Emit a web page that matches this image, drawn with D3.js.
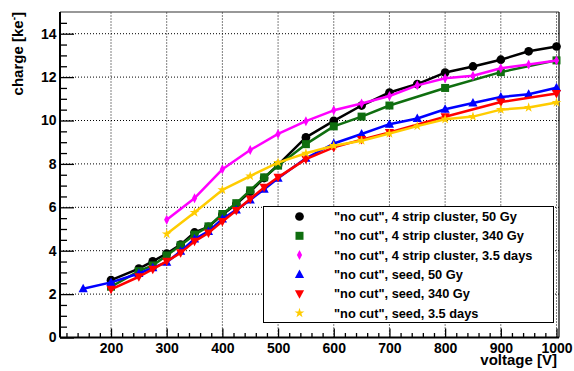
<!DOCTYPE html>
<html>
<head>
<meta charset="utf-8">
<script src="https://cdn.jsdelivr.net/npm/d3@7"></script>
<style>
  html, body { margin: 0; padding: 0; background: #fff; }
  svg { display: block; font-family: "Liberation Sans", Arial, Helvetica, sans-serif; font-weight: bold; }
</style>
</head>
<body>
<svg id="chart" width="574" height="371"></svg>
<script>
// ---------- data ----------
const xTicks = [200, 300, 400, 500, 600, 700, 800, 900, 1000];
const yTicks = [0, 2, 4, 6, 8, 10, 12, 14];

const vBlack = [200,250,275,300,325,350,375,400,425,450,475,500,550,600,650,700,750,800,850,900,950,1000];
const qBlack = [2.64,3.17,3.51,3.87,4.28,4.84,5.10,5.66,6.15,6.72,7.35,7.95,9.22,9.98,10.69,11.29,11.68,12.21,12.49,12.80,13.19,13.41];

const vGreen = [200,250,275,300,325,350,375,400,425,450,475,500,550,600,650,700,800,900,1000];
const qGreen = [2.34,3.06,3.32,3.78,4.25,4.74,5.12,5.69,6.19,6.78,7.38,7.92,8.91,9.73,10.18,10.69,11.50,12.23,12.77];

const vMagenta = [300,350,400,450,500,550,600,650,700,750,800,850,900,950,1000];
const qMagenta = [5.43,6.42,7.75,8.64,9.38,9.97,10.47,10.78,11.13,11.62,11.95,12.06,12.41,12.58,12.77];

const vBlue = [150,200,250,275,300,325,350,375,400,425,450,475,500,550,600,650,700,750,800,850,900,950,1000];
const qBlue = [2.25,2.54,2.95,3.21,3.47,3.97,4.54,4.89,5.46,5.88,6.34,6.83,7.34,8.26,8.94,9.38,9.83,10.09,10.52,10.81,11.08,11.21,11.51];

const vRed = [200,250,275,300,325,350,375,400,425,450,475,500,550,600,650,700,800,900,1000];
const qRed = [2.22,2.80,3.15,3.51,3.90,4.43,4.82,5.35,5.85,6.38,6.92,7.38,8.22,8.76,9.12,9.45,10.17,10.85,11.24];

const vYellow = [300,350,400,450,500,550,600,650,700,750,800,850,900,950,1000];
const qYellow = [4.77,5.76,6.80,7.44,8.06,8.49,8.84,9.07,9.40,9.74,10.06,10.18,10.50,10.60,10.83];

const seriesNames = [
  '"no cut", 4 strip cluster, 50 Gy',
  '"no cut", 4 strip cluster, 340 Gy',
  '"no cut", 4 strip cluster, 3.5 days',
  '"no cut", seed, 50 Gy',
  '"no cut", seed, 340 Gy',
  '"no cut", seed, 3.5 days'
];
const seriesColors = ["#000000", "#0f6e0f", "#ff00ff", "#0000ff", "#ff0000", "#ffcc00"];
const seriesMarkers = ["circle", "square", "diamond", "triUp", "triDown", "star"];
const seriesV = [vBlack, vGreen, vMagenta, vBlue, vRed, vYellow];
const seriesQ = [qBlack, qGreen, qMagenta, qBlue, qRed, qYellow];

// ---------- layout ----------
const svg = d3.select("#chart");
const L = 60, R = 559, T = 12, B = 337.5;
const x = d3.scaleLinear().domain([108.4, 1004.5]).range([L, R]);
const y = d3.scaleLinear().domain([0, 15]).range([B, T]);

// grid (dotted)
const grid = svg.append("g");
grid.selectAll("line.gx").data(xTicks).join("line")
  .attr("x1", d => x(d)).attr("x2", d => x(d)).attr("y1", B).attr("y2", T)
  .attr("stroke", "#000").attr("stroke-width", 1).attr("stroke-dasharray", "1,2");
grid.selectAll("line.gy").data(yTicks.filter(d => d > 0)).join("line")
  .attr("x1", L).attr("x2", R).attr("y1", d => y(d)).attr("y2", d => y(d))
  .attr("stroke", "#000").attr("stroke-width", 1).attr("stroke-dasharray", "1,2");

// frame
svg.append("line").attr("x1", L).attr("x2", R).attr("y1", T).attr("y2", T).attr("stroke", "#333").attr("stroke-width", 1.2);
svg.append("line").attr("x1", R).attr("x2", R).attr("y1", T).attr("y2", B).attr("stroke", "#000").attr("stroke-width", 1.2);

// axes with inward ticks
const xMinor = d3.range(120, 1001, 20).filter(v => !xTicks.includes(v));
const yMinor = d3.range(0.5, 15, 0.5).filter(v => !yTicks.includes(v));

const xAxis = d3.axisBottom(x).tickValues(xTicks).tickSizeInner(-9).tickSizeOuter(0).tickPadding(15).tickFormat(d3.format("d"));
const gx = svg.append("g").attr("transform", `translate(0,${B})`).call(xAxis);
gx.select(".domain").attr("stroke-width", 2).attr("d", `M${L},0H${R}`);
gx.selectAll(".tick line").attr("stroke-width", 1.3);
gx.selectAll(".tick text").attr("font-size", 14).attr("font-weight", "bold").attr("fill", "#000")
  .attr("font-family", '"Liberation Sans", Arial, sans-serif').attr("dy", "0.7em").attr("y", 6);
const gxm = svg.append("g").attr("transform", `translate(0,${B})`)
  .call(d3.axisBottom(x).tickValues(xMinor).tickSizeInner(-4.5).tickSizeOuter(0).tickFormat(""));
gxm.select(".domain").remove();
gxm.selectAll(".tick line").attr("stroke-width", 1.3);

const yAxis = d3.axisLeft(y).tickValues(yTicks).tickSizeInner(-14).tickSizeOuter(0).tickPadding(3.5).tickFormat(d3.format("d"));
const gy = svg.append("g").attr("transform", `translate(${L},0)`).call(yAxis);
gy.select(".domain").attr("stroke-width", 2).attr("d", `M0,${T}V${B}`);
gy.selectAll(".tick line").attr("stroke-width", 1.3);
gy.selectAll(".tick text").attr("font-size", 14).attr("font-weight", "bold").attr("fill", "#000")
  .attr("font-family", '"Liberation Sans", Arial, sans-serif').attr("x", -3.5);
const gym = svg.append("g").attr("transform", `translate(${L},0)`)
  .call(d3.axisLeft(y).tickValues(yMinor).tickSizeInner(-7).tickSizeOuter(0).tickFormat(""));
gym.select(".domain").remove();
gym.selectAll(".tick line").attr("stroke-width", 1.3);

// axis titles
svg.append("text").attr("x", 557).attr("y", 365).attr("text-anchor", "end")
  .attr("font-size", 15).attr("fill", "#000").text("voltage [V]");
const yt = svg.append("text").attr("transform", "translate(22.5,12) rotate(-90)")
  .attr("text-anchor", "end").attr("font-size", 15).attr("fill", "#000");
yt.append("tspan").text("charge [ke");
yt.append("tspan").attr("font-size", 10).attr("dy", -6).text("-");
yt.append("tspan").attr("dy", 6).text("]");

// markers
function markerPath(type) {
  switch (type) {
    case "circle": return d3.symbol(d3.symbolCircle, 60)();
    case "square": return d3.symbol(d3.symbolSquare, 64)();
    case "diamond": return "M0,-5L2.6,0L0,5L-2.6,0Z";
    case "triUp": return "M0,-5L4.6,3.5L-4.6,3.5Z";
    case "triDown": return "M0,5L4.6,-3.5L-4.6,-3.5Z";
    case "star": return d3.symbol(d3.symbolStar, 30)();
  }
}

const line = d3.line().x(d => x(d[0])).y(d => y(d[1]));
const plot = svg.append("g");
seriesV.forEach((vs, i) => {
  const pts = vs.map((v, j) => [v, seriesQ[i][j]]);
  const g = plot.append("g");
  g.append("path").datum(pts).attr("d", line).attr("fill", "none")
    .attr("stroke", seriesColors[i]).attr("stroke-width", 2.5).attr("stroke-linejoin", "round");
  g.selectAll("path.m").data(pts).join("path").attr("class", "m")
    .attr("d", markerPath(seriesMarkers[i]))
    .attr("transform", d => `translate(${x(d[0])},${y(d[1])})`)
    .attr("fill", seriesColors[i]);
});

// legend
const lg = svg.append("g");
lg.append("rect").attr("x", 263.5).attr("y", 206.5).attr("width", 290).attr("height", 116)
  .attr("fill", "#fff").attr("stroke", "#000").attr("stroke-width", 1);
seriesNames.forEach((name, i) => {
  const ry = 216.5 + i * 19.3;
  lg.append("path").attr("d", markerPath(seriesMarkers[i]))
    .attr("transform", `translate(299.5,${ry})`).attr("fill", seriesColors[i]);
  lg.append("text").attr("x", 334).attr("y", ry + 4.6).attr("font-size", 12.8)
    .attr("fill", "#000").text(name);
});
</script>
</body>
</html>
